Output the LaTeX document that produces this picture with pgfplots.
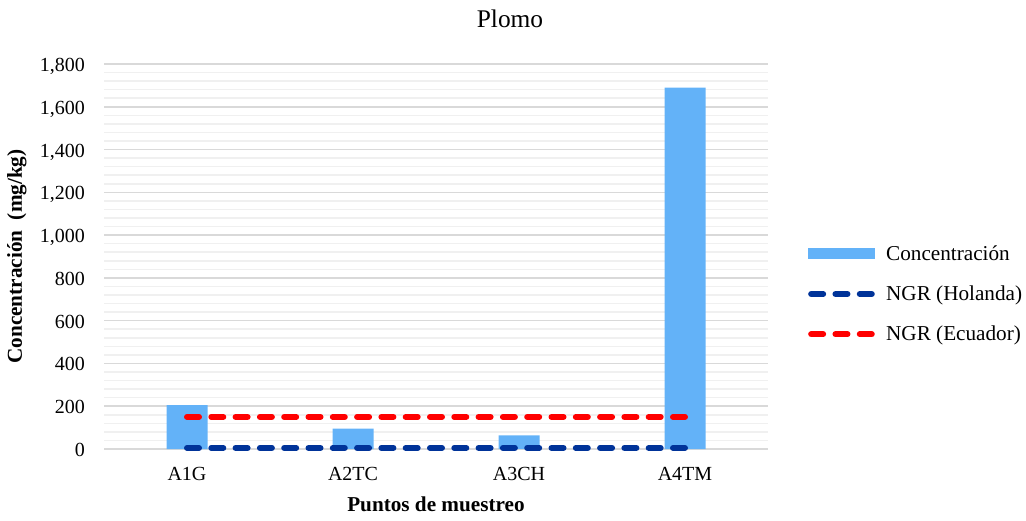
\documentclass[border=0pt]{standalone}
\usepackage{fontspec}
\setmainfont{Liberation Serif}
\usepackage{pgfplots}
\pgfplotsset{compat=1.18}
\definecolor{barblue}{RGB}{99,178,248}
\definecolor{navyline}{RGB}{0,51,153}
\definecolor{majgrid}{RGB}{217,217,217}
\definecolor{mingrid}{RGB}{240,240,240}
\tikzset{ngrdash/.style={line width=6bp, dash pattern=on 12bp off 12.3bp, line cap=round}}
\begin{document}
\begin{tikzpicture}
\path[use as bounding box] (0,0) rectangle (1026bp,521bp);
\begin{axis}[
 at={(104bp,72bp)}, anchor=south west,
 scale only axis, width=664bp, height=385bp,
 xmin=-0.5, xmax=3.5, ymin=0, ymax=1800,
 xtick={0,1,2,3}, xticklabels={A1G,A2TC,A3CH,A4TM},
 ytick={0,200,...,1800},
 minor y tick num=4,
 ymajorgrids, yminorgrids,
 major grid style={draw=majgrid, line width=1.5bp},
 minor grid style={draw=mingrid, line width=1.5bp},
 axis line style={draw=none},
 major tick length=0pt, minor tick length=0pt,
 tick style={draw=none},
 font=\fontsize{20bp}{24bp}\selectfont,
 /pgf/number format/assume math mode=true,
 /pgf/number format/1000 sep={,},
 scaled y ticks=false,
 yticklabel style={anchor=base east, inner sep=0pt, xshift=-19bp, yshift=-7.5bp},
 xticklabel style={anchor=base, inner sep=0pt, yshift=-31.7bp},
 title={Plomo},
 title style={at={(axis description cs:0.5,1)}, anchor=base, xshift=74bp, yshift=31bp, inner sep=0pt, font=\fontsize{25.4bp}{30bp}\selectfont},
 xlabel={\bfseries Puntos de muestreo},
 xlabel style={at={(axis description cs:0.5,0)}, anchor=base, yshift=-62.7bp, inner sep=0pt, font=\fontsize{21.2bp}{25bp}\selectfont},
 ylabel={\bfseries Concentración\ \ (mg/kg)},
 ylabel style={at={(axis description cs:-0.1235,0.5)}, anchor=base, inner sep=0pt, font=\fontsize{21.2bp}{25bp}\selectfont},
 clip=false,
 legend style={at={(axis description cs:1.0602,0.4026)}, anchor=west, draw=none, fill=none, inner sep=0pt, row sep=24bp, font=\fontsize{21.2bp}{25bp}\selectfont, nodes={inner sep=0pt, anchor=west}, /tikz/every odd column/.append style={column sep=11bp}},
 legend cell align=left,
]
\addplot[ybar, bar width=41bp, fill=barblue, draw=none,
 legend image code/.code={\fill[barblue] (0bp,-5.5bp) rectangle (67bp,5.5bp);}]
 coordinates {(0,205) (1,95) (2,64) (3,1690)};
\addlegendentry{Concentración}
\addplot[navyline, ngrdash,
 legend image code/.code={\draw[navyline, ngrdash] (3bp,0bp) -- (63.6bp,0bp);}]
 coordinates {(0,5) (3,5)};
\addlegendentry{NGR (Holanda)}
\addplot[red, ngrdash,
 legend image code/.code={\draw[red, ngrdash] (3bp,0bp) -- (63.6bp,0bp);}]
 coordinates {(0,150) (3,150)};
\addlegendentry{NGR (Ecuador)}
\end{axis}
\end{tikzpicture}
\end{document}
